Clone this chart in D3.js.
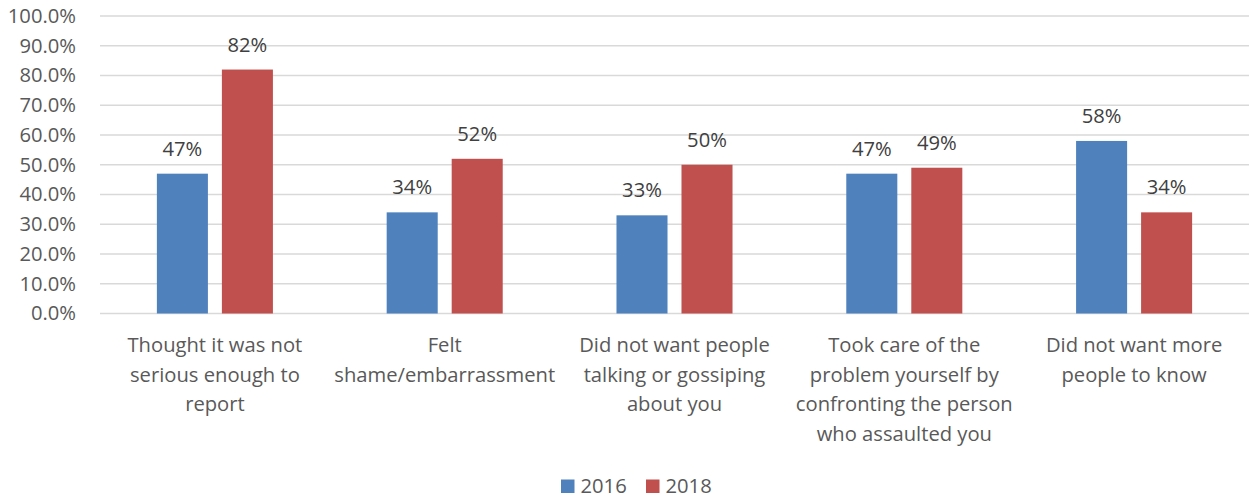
<!DOCTYPE html>
<html>
<head>
<meta charset="utf-8">
<script src="https://cdn.jsdelivr.net/npm/d3@7"></script>
<style>
  html, body { margin: 0; padding: 0; background: #fff; }
  svg { display: block; font-family: "Open Sans", Lato, sans-serif; }
</style>
</head>
<body>
<svg id="chart" width="1249" height="499"></svg>
<script>
const categories = [
  ["Thought it was not", "serious enough to", "report"],
  ["Felt", "shame/embarrassment"],
  ["Did not want people", "talking or gossiping", "about you"],
  ["Took care of the", "problem yourself by", "confronting the person", "who assaulted you"],
  ["Did not want more", "people to know"]
];
const seriesNames = ["2016", "2018"];
const values2016 = [47, 34, 33, 47, 58];
const values2018 = [82, 52, 50, 49, 34];
const yTicks = [0, 10, 20, 30, 40, 50, 60, 70, 80, 90, 100];
const colors = ["#4F81BD", "#C0504D"];

(function () {
const series = [values2016, values2018];
const svg = d3.select("#chart");
const pLeft = 100, pRight = 1249, pTop = 16, pBottom = 313.5;
const fs = 20.2;

const x = d3.scaleBand().domain(d3.range(categories.length)).range([pLeft, pRight]).paddingInner(0).paddingOuter(0);
const x1 = d3.scaleBand().domain(d3.range(series.length)).range([0, x.bandwidth()]).paddingInner(0.215).paddingOuter(0.875);
const y = d3.scaleLinear().domain([0, 100]).range([pBottom, pTop]);

// gridlines
svg.append("g").selectAll("line").data(yTicks).join("line")
  .attr("x1", pLeft).attr("x2", pRight)
  .attr("y1", d => y(d)).attr("y2", d => y(d))
  .attr("stroke", "#D9D9D9").attr("stroke-width", 1.3);

// y axis labels
const yAxis = d3.axisLeft(y).tickValues(yTicks).tickFormat(d => d.toFixed(1) + "%").tickSize(0).tickPadding(0);
const ya = svg.append("g").attr("transform", `translate(${pLeft - 24},0)`).call(yAxis);
ya.select(".domain").remove();
ya.selectAll("text").attr("font-size", fs).attr("fill", "#595959").attr("font-family", "'Open Sans', sans-serif");

// bars
series.forEach((vals, si) => {
  const g = svg.append("g").attr("fill", colors[si]);
  g.selectAll("rect").data(vals).join("rect")
    .attr("x", (d, ci) => x(ci) + x1(si))
    .attr("width", x1.bandwidth())
    .attr("y", d => y(d))
    .attr("height", d => y(0) - y(d));
  svg.append("g").selectAll("text").data(vals).join("text")
    .attr("x", (d, ci) => x(ci) + x1(si) + x1.bandwidth() / 2)
    .attr("y", d => y(d) - 18)
    .attr("text-anchor", "middle")
    .attr("font-size", fs)
    .attr("fill", "#404040")
    .text(d => d + "%");
});

// category labels
const cat = svg.append("g").selectAll("text").data(categories).join("text")
  .attr("text-anchor", "middle")
  .attr("font-size", fs)
  .attr("fill", "#595959");
cat.each(function(lines, i) {
  d3.select(this).selectAll("tspan").data(lines).join("tspan")
    .attr("x", x(i) + x.bandwidth() / 2)
    .attr("y", (d, j) => 352 + j * 29.5)
    .text(d => d);
});

// legend
const legend = svg.append("g");
const legendX = [561, 646];
seriesNames.forEach((n, i) => {
  legend.append("rect").attr("x", legendX[i]).attr("y", 479.5).attr("width", 13.5).attr("height", 13.5).attr("fill", colors[i]);
  legend.append("text").attr("x", legendX[i] + 19.5).attr("y", 492.5).attr("font-size", fs).attr("fill", "#595959").text(n);
});
})();
</script>
</body>
</html>
